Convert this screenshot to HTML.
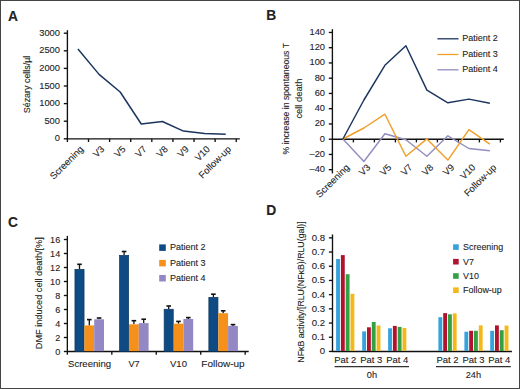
<!DOCTYPE html>
<html><head><meta charset="utf-8"><style>
html,body{margin:0;padding:0;background:#fff;}
svg{display:block;}
text{font-family:"Liberation Sans", sans-serif;fill:#222;stroke:#222;stroke-width:0.1px;}
</style></head><body>
<svg width="520" height="389" viewBox="0 0 520 389">
<rect x="0" y="0" width="520" height="389" fill="#fff"/>
<text x="7.9" y="20.8" font-size="13.8" text-anchor="start" font-weight="bold">A</text>
<line x1="63.80" y1="138.80" x2="67.40" y2="138.80" stroke="#111" stroke-width="1.35"/>
<text x="60" y="141.4" font-size="9.7" text-anchor="end" textLength="5.2" lengthAdjust="spacingAndGlyphs" >0</text>
<line x1="63.80" y1="121.20" x2="67.40" y2="121.20" stroke="#111" stroke-width="1.35"/>
<text x="60" y="123.8" font-size="9.7" text-anchor="end" textLength="15.6" lengthAdjust="spacingAndGlyphs" >500</text>
<line x1="63.80" y1="103.60" x2="67.40" y2="103.60" stroke="#111" stroke-width="1.35"/>
<text x="60" y="106.2" font-size="9.7" text-anchor="end" textLength="20.8" lengthAdjust="spacingAndGlyphs" >1000</text>
<line x1="63.80" y1="86.00" x2="67.40" y2="86.00" stroke="#111" stroke-width="1.35"/>
<text x="60" y="88.6" font-size="9.7" text-anchor="end" textLength="20.8" lengthAdjust="spacingAndGlyphs" >1500</text>
<line x1="63.80" y1="68.40" x2="67.40" y2="68.40" stroke="#111" stroke-width="1.35"/>
<text x="60" y="71.0" font-size="9.7" text-anchor="end" textLength="20.8" lengthAdjust="spacingAndGlyphs" >2000</text>
<line x1="63.80" y1="50.80" x2="67.40" y2="50.80" stroke="#111" stroke-width="1.35"/>
<text x="60" y="53.4" font-size="9.7" text-anchor="end" textLength="20.8" lengthAdjust="spacingAndGlyphs" >2500</text>
<line x1="63.80" y1="33.20" x2="67.40" y2="33.20" stroke="#111" stroke-width="1.35"/>
<text x="60" y="35.8" font-size="9.7" text-anchor="end" textLength="20.8" lengthAdjust="spacingAndGlyphs" >3000</text>
<line x1="67.40" y1="30.20" x2="67.40" y2="142.00" stroke="#111" stroke-width="1.35"/>
<line x1="66.80" y1="138.80" x2="239.80" y2="138.80" stroke="#111" stroke-width="1.35"/>
<line x1="88.51" y1="138.80" x2="88.51" y2="142.00" stroke="#111" stroke-width="1.35"/>
<line x1="109.61" y1="138.80" x2="109.61" y2="142.00" stroke="#111" stroke-width="1.35"/>
<line x1="130.72" y1="138.80" x2="130.72" y2="142.00" stroke="#111" stroke-width="1.35"/>
<line x1="151.82" y1="138.80" x2="151.82" y2="142.00" stroke="#111" stroke-width="1.35"/>
<line x1="172.93" y1="138.80" x2="172.93" y2="142.00" stroke="#111" stroke-width="1.35"/>
<line x1="194.04" y1="138.80" x2="194.04" y2="142.00" stroke="#111" stroke-width="1.35"/>
<line x1="215.14" y1="138.80" x2="215.14" y2="142.00" stroke="#111" stroke-width="1.35"/>
<line x1="236.25" y1="138.80" x2="236.25" y2="142.00" stroke="#111" stroke-width="1.35"/>
<polyline points="77.95,49.04 99.06,74.38 120.17,91.98 141.27,124.02 162.38,121.55 183.48,131.06 204.59,133.52 225.70,134.22" fill="none" stroke="#1c355e" stroke-width="1.5" stroke-linejoin="round"/>
<text transform="translate(83.95,149.80) rotate(-45)" font-size="9.5" text-anchor="end">Screening</text>
<text transform="translate(105.06,149.80) rotate(-45)" font-size="9.5" text-anchor="end">V3</text>
<text transform="translate(126.17,149.80) rotate(-45)" font-size="9.5" text-anchor="end">V5</text>
<text transform="translate(147.27,149.80) rotate(-45)" font-size="9.5" text-anchor="end">V7</text>
<text transform="translate(168.38,149.80) rotate(-45)" font-size="9.5" text-anchor="end">V8</text>
<text transform="translate(189.48,149.80) rotate(-45)" font-size="9.5" text-anchor="end">V9</text>
<text transform="translate(210.59,149.80) rotate(-45)" font-size="9.5" text-anchor="end">V10</text>
<text transform="translate(231.70,149.80) rotate(-45)" font-size="9.5" text-anchor="end">Follow-up</text>
<text transform="translate(30.10,84.45) rotate(-90)" font-size="9.7" text-anchor="middle" textLength="57.5" lengthAdjust="spacingAndGlyphs">Sézary cells/µl</text>
<text x="266.3" y="19.9" font-size="13.8" text-anchor="start" font-weight="bold">B</text>
<line x1="328.80" y1="169.70" x2="332.40" y2="169.70" stroke="#111" stroke-width="1.35"/>
<text x="325" y="172.1" font-size="9.7" text-anchor="end" textLength="15.52" lengthAdjust="spacingAndGlyphs" >–40</text>
<line x1="328.80" y1="154.45" x2="332.40" y2="154.45" stroke="#111" stroke-width="1.35"/>
<text x="325" y="156.85" font-size="9.7" text-anchor="end" textLength="15.52" lengthAdjust="spacingAndGlyphs" >–20</text>
<line x1="328.80" y1="139.20" x2="332.40" y2="139.20" stroke="#111" stroke-width="1.35"/>
<text x="325" y="141.6" font-size="9.7" text-anchor="end" textLength="5.17" lengthAdjust="spacingAndGlyphs" >0</text>
<line x1="328.80" y1="123.95" x2="332.40" y2="123.95" stroke="#111" stroke-width="1.35"/>
<text x="325" y="126.35" font-size="9.7" text-anchor="end" textLength="10.34" lengthAdjust="spacingAndGlyphs" >20</text>
<line x1="328.80" y1="108.70" x2="332.40" y2="108.70" stroke="#111" stroke-width="1.35"/>
<text x="325" y="111.1" font-size="9.7" text-anchor="end" textLength="10.34" lengthAdjust="spacingAndGlyphs" >40</text>
<line x1="328.80" y1="93.45" x2="332.40" y2="93.45" stroke="#111" stroke-width="1.35"/>
<text x="325" y="95.85" font-size="9.7" text-anchor="end" textLength="10.34" lengthAdjust="spacingAndGlyphs" >60</text>
<line x1="328.80" y1="78.20" x2="332.40" y2="78.20" stroke="#111" stroke-width="1.35"/>
<text x="325" y="80.6" font-size="9.7" text-anchor="end" textLength="10.34" lengthAdjust="spacingAndGlyphs" >80</text>
<line x1="328.80" y1="62.95" x2="332.40" y2="62.95" stroke="#111" stroke-width="1.35"/>
<text x="325" y="65.35" font-size="9.7" text-anchor="end" textLength="15.52" lengthAdjust="spacingAndGlyphs" >100</text>
<line x1="328.80" y1="47.70" x2="332.40" y2="47.70" stroke="#111" stroke-width="1.35"/>
<text x="325" y="50.1" font-size="9.7" text-anchor="end" textLength="15.52" lengthAdjust="spacingAndGlyphs" >120</text>
<line x1="328.80" y1="32.45" x2="332.40" y2="32.45" stroke="#111" stroke-width="1.35"/>
<text x="325" y="34.85" font-size="9.7" text-anchor="end" textLength="15.52" lengthAdjust="spacingAndGlyphs" >140</text>
<line x1="332.40" y1="29.15" x2="332.40" y2="173.40" stroke="#111" stroke-width="1.35"/>
<line x1="332.40" y1="139.20" x2="503.80" y2="139.20" stroke="#111" stroke-width="1.35"/>
<line x1="353.40" y1="139.20" x2="353.40" y2="142.40" stroke="#111" stroke-width="1.35"/>
<line x1="374.40" y1="139.20" x2="374.40" y2="142.40" stroke="#111" stroke-width="1.35"/>
<line x1="395.40" y1="139.20" x2="395.40" y2="142.40" stroke="#111" stroke-width="1.35"/>
<line x1="416.40" y1="139.20" x2="416.40" y2="142.40" stroke="#111" stroke-width="1.35"/>
<line x1="437.40" y1="139.20" x2="437.40" y2="142.40" stroke="#111" stroke-width="1.35"/>
<line x1="458.40" y1="139.20" x2="458.40" y2="142.40" stroke="#111" stroke-width="1.35"/>
<line x1="479.40" y1="139.20" x2="479.40" y2="142.40" stroke="#111" stroke-width="1.35"/>
<line x1="500.40" y1="139.20" x2="500.40" y2="142.40" stroke="#111" stroke-width="1.35"/>
<polyline points="342.90,139 363.90,161.5 384.90,133.8 405.90,139.8 426.90,156.2 447.90,135.8 468.90,148.5 489.90,150.8" fill="none" stroke="#928ebf" stroke-width="1.45" stroke-linejoin="round"/>
<polyline points="342.90,139 363.90,128 384.90,114.2 405.90,156.3 426.90,138.9 447.90,160.1 468.90,129.6 489.90,144.1" fill="none" stroke="#efa02a" stroke-width="1.45" stroke-linejoin="round"/>
<polyline points="342.90,139 363.90,100 384.90,65.3 405.90,45.7 426.90,90.1 447.90,102.8 468.90,99.1 489.90,103.2" fill="none" stroke="#1c355e" stroke-width="1.45" stroke-linejoin="round"/>
<text transform="translate(350.00,168.00) rotate(-45)" font-size="9.5" text-anchor="end">Screening</text>
<text transform="translate(371.00,168.00) rotate(-45)" font-size="9.5" text-anchor="end">V3</text>
<text transform="translate(392.00,168.00) rotate(-45)" font-size="9.5" text-anchor="end">V5</text>
<text transform="translate(413.00,168.00) rotate(-45)" font-size="9.5" text-anchor="end">V7</text>
<text transform="translate(434.00,168.00) rotate(-45)" font-size="9.5" text-anchor="end">V8</text>
<text transform="translate(455.00,168.00) rotate(-45)" font-size="9.5" text-anchor="end">V9</text>
<text transform="translate(476.00,168.00) rotate(-45)" font-size="9.5" text-anchor="end">V10</text>
<text transform="translate(497.00,168.00) rotate(-45)" font-size="9.5" text-anchor="end">Follow-up</text>
<line x1="437.40" y1="38.80" x2="458.50" y2="38.80" stroke="#1c355e" stroke-width="1.3"/>
<text x="462.3" y="41.3" font-size="9.7" text-anchor="start" textLength="35.6" lengthAdjust="spacingAndGlyphs" >Patient 2</text>
<line x1="437.40" y1="54.50" x2="458.50" y2="54.50" stroke="#efa02a" stroke-width="1.3"/>
<text x="462.3" y="57.0" font-size="9.7" text-anchor="start" textLength="35.6" lengthAdjust="spacingAndGlyphs" >Patient 3</text>
<line x1="437.40" y1="69.80" x2="458.50" y2="69.80" stroke="#928ebf" stroke-width="1.3"/>
<text x="462.3" y="72.3" font-size="9.7" text-anchor="start" textLength="35.6" lengthAdjust="spacingAndGlyphs" >Patient 4</text>
<text transform="translate(288.90,98.75) rotate(-90)" font-size="9.5" text-anchor="middle" textLength="111.4" lengthAdjust="spacingAndGlyphs">% increase in spontaneous T</text>
<text transform="translate(301.70,98.60) rotate(-90)" font-size="9.5" text-anchor="middle" textLength="40" lengthAdjust="spacingAndGlyphs">cell death</text>
<text x="8.0" y="227.4" font-size="13.8" text-anchor="start" font-weight="bold">C</text>
<line x1="63.85" y1="351.50" x2="67.35" y2="351.50" stroke="#111" stroke-width="1.35"/>
<text x="60.2" y="354.6" font-size="9.7" text-anchor="end" textLength="5.06" lengthAdjust="spacingAndGlyphs" >0</text>
<line x1="63.85" y1="337.50" x2="67.35" y2="337.50" stroke="#111" stroke-width="1.35"/>
<text x="60.2" y="340.6" font-size="9.7" text-anchor="end" textLength="5.06" lengthAdjust="spacingAndGlyphs" >2</text>
<line x1="63.85" y1="323.50" x2="67.35" y2="323.50" stroke="#111" stroke-width="1.35"/>
<text x="60.2" y="326.6" font-size="9.7" text-anchor="end" textLength="5.06" lengthAdjust="spacingAndGlyphs" >4</text>
<line x1="63.85" y1="309.50" x2="67.35" y2="309.50" stroke="#111" stroke-width="1.35"/>
<text x="60.2" y="312.6" font-size="9.7" text-anchor="end" textLength="5.06" lengthAdjust="spacingAndGlyphs" >6</text>
<line x1="63.85" y1="295.50" x2="67.35" y2="295.50" stroke="#111" stroke-width="1.35"/>
<text x="60.2" y="298.6" font-size="9.7" text-anchor="end" textLength="5.06" lengthAdjust="spacingAndGlyphs" >8</text>
<line x1="63.85" y1="281.50" x2="67.35" y2="281.50" stroke="#111" stroke-width="1.35"/>
<text x="60.2" y="284.6" font-size="9.7" text-anchor="end" textLength="10.12" lengthAdjust="spacingAndGlyphs" >10</text>
<line x1="63.85" y1="267.50" x2="67.35" y2="267.50" stroke="#111" stroke-width="1.35"/>
<text x="60.2" y="270.6" font-size="9.7" text-anchor="end" textLength="10.12" lengthAdjust="spacingAndGlyphs" >12</text>
<line x1="63.85" y1="253.50" x2="67.35" y2="253.50" stroke="#111" stroke-width="1.35"/>
<text x="60.2" y="256.6" font-size="9.7" text-anchor="end" textLength="10.12" lengthAdjust="spacingAndGlyphs" >14</text>
<line x1="63.85" y1="239.50" x2="67.35" y2="239.50" stroke="#111" stroke-width="1.35"/>
<text x="60.2" y="242.6" font-size="9.7" text-anchor="end" textLength="10.12" lengthAdjust="spacingAndGlyphs" >16</text>
<line x1="67.35" y1="235.90" x2="67.35" y2="354.70" stroke="#111" stroke-width="1.35"/>
<line x1="67.35" y1="351.50" x2="248.70" y2="351.50" stroke="#111" stroke-width="1.35"/>
<line x1="111.81" y1="351.50" x2="111.81" y2="354.70" stroke="#111" stroke-width="1.35"/>
<line x1="156.27" y1="351.50" x2="156.27" y2="354.70" stroke="#111" stroke-width="1.35"/>
<line x1="200.74" y1="351.50" x2="200.74" y2="354.70" stroke="#111" stroke-width="1.35"/>
<line x1="245.20" y1="351.50" x2="245.20" y2="354.70" stroke="#111" stroke-width="1.35"/>
<line x1="79.50" y1="269.00" x2="79.50" y2="264.50" stroke="#111" stroke-width="1.3"/>
<line x1="77.20" y1="264.30" x2="81.80" y2="264.30" stroke="#111" stroke-width="1.6"/>
<rect x="74.95" y="269.35" width="9.100000000000001" height="82.15" fill="#0e4b85" stroke="#0c365f" stroke-width="0.7"/>
<line x1="89.30" y1="325.40" x2="89.30" y2="319.80" stroke="#111" stroke-width="1.3"/>
<line x1="87.00" y1="319.60" x2="91.60" y2="319.60" stroke="#111" stroke-width="1.6"/>
<rect x="84.40" y="325.4" width="9.8" height="25.75" fill="#f5911a"/>
<line x1="99.10" y1="319.30" x2="99.10" y2="318.20" stroke="#111" stroke-width="1.3"/>
<line x1="96.80" y1="318.00" x2="101.40" y2="318.00" stroke="#111" stroke-width="1.6"/>
<rect x="94.20" y="319.3" width="9.8" height="31.85" fill="#9488c4"/>
<line x1="124.10" y1="255.00" x2="124.10" y2="251.70" stroke="#111" stroke-width="1.3"/>
<line x1="121.80" y1="251.50" x2="126.40" y2="251.50" stroke="#111" stroke-width="1.6"/>
<rect x="119.55" y="255.35" width="9.100000000000001" height="96.15" fill="#0e4b85" stroke="#0c365f" stroke-width="0.7"/>
<line x1="133.90" y1="324.30" x2="133.90" y2="320.90" stroke="#111" stroke-width="1.3"/>
<line x1="131.60" y1="320.70" x2="136.20" y2="320.70" stroke="#111" stroke-width="1.6"/>
<rect x="129.00" y="324.3" width="9.8" height="26.85" fill="#f5911a"/>
<line x1="143.70" y1="323.10" x2="143.70" y2="319.40" stroke="#111" stroke-width="1.3"/>
<line x1="141.40" y1="319.20" x2="146.00" y2="319.20" stroke="#111" stroke-width="1.6"/>
<rect x="138.80" y="323.1" width="9.8" height="28.05" fill="#9488c4"/>
<line x1="168.70" y1="308.90" x2="168.70" y2="306.20" stroke="#111" stroke-width="1.3"/>
<line x1="166.40" y1="306.00" x2="171.00" y2="306.00" stroke="#111" stroke-width="1.6"/>
<rect x="164.15" y="309.25" width="9.100000000000001" height="42.25" fill="#0e4b85" stroke="#0c365f" stroke-width="0.7"/>
<line x1="178.50" y1="323.70" x2="178.50" y2="321.60" stroke="#111" stroke-width="1.3"/>
<line x1="176.20" y1="321.40" x2="180.80" y2="321.40" stroke="#111" stroke-width="1.6"/>
<rect x="173.60" y="323.7" width="9.8" height="27.45" fill="#f5911a"/>
<line x1="188.30" y1="319.00" x2="188.30" y2="317.80" stroke="#111" stroke-width="1.3"/>
<line x1="186.00" y1="317.60" x2="190.60" y2="317.60" stroke="#111" stroke-width="1.6"/>
<rect x="183.40" y="319" width="9.8" height="32.15" fill="#9488c4"/>
<line x1="213.40" y1="297.00" x2="213.40" y2="294.40" stroke="#111" stroke-width="1.3"/>
<line x1="211.10" y1="294.20" x2="215.70" y2="294.20" stroke="#111" stroke-width="1.6"/>
<rect x="208.85" y="297.35" width="9.100000000000001" height="54.15" fill="#0e4b85" stroke="#0c365f" stroke-width="0.7"/>
<line x1="223.20" y1="313.20" x2="223.20" y2="311.00" stroke="#111" stroke-width="1.3"/>
<line x1="220.90" y1="310.80" x2="225.50" y2="310.80" stroke="#111" stroke-width="1.6"/>
<rect x="218.30" y="313.2" width="9.8" height="37.95" fill="#f5911a"/>
<line x1="233.00" y1="325.90" x2="233.00" y2="324.80" stroke="#111" stroke-width="1.3"/>
<line x1="230.70" y1="324.60" x2="235.30" y2="324.60" stroke="#111" stroke-width="1.6"/>
<rect x="228.10" y="325.9" width="9.8" height="25.25" fill="#9488c4"/>
<text x="89.58" y="366.8" font-size="9.8" text-anchor="middle" textLength="43.1" lengthAdjust="spacingAndGlyphs" >Screening</text>
<text x="134.04" y="366.8" font-size="9.8" text-anchor="middle" textLength="11.2" lengthAdjust="spacingAndGlyphs" >V7</text>
<text x="178.51" y="366.8" font-size="9.8" text-anchor="middle" textLength="17.0" lengthAdjust="spacingAndGlyphs" >V10</text>
<text x="222.97" y="366.8" font-size="9.8" text-anchor="middle" textLength="43.3" lengthAdjust="spacingAndGlyphs" >Follow-up</text>
<rect x="159.2" y="244.4" width="6.6" height="6.5" fill="#0e4b85"/>
<text x="169.9" y="250.3" font-size="9.7" text-anchor="start" textLength="35.6" lengthAdjust="spacingAndGlyphs" >Patient 2</text>
<rect x="159.2" y="259.9" width="6.6" height="6.5" fill="#f5911a"/>
<text x="169.9" y="265.8" font-size="9.7" text-anchor="start" textLength="35.6" lengthAdjust="spacingAndGlyphs" >Patient 3</text>
<rect x="159.2" y="275.0" width="6.6" height="6.5" fill="#9488c4"/>
<text x="169.9" y="280.9" font-size="9.7" text-anchor="start" textLength="35.6" lengthAdjust="spacingAndGlyphs" >Patient 4</text>
<text transform="translate(41.80,293.20) rotate(-90)" font-size="9.4" text-anchor="middle" textLength="112" lengthAdjust="spacingAndGlyphs">DMF induced cell death/[%]</text>
<text x="266.3" y="215.2" font-size="13.8" text-anchor="start" font-weight="bold">D</text>
<line x1="328.90" y1="351.45" x2="332.50" y2="351.45" stroke="#111" stroke-width="1.35"/>
<text x="325" y="354.35" font-size="9.7" text-anchor="end" textLength="5.34" lengthAdjust="spacingAndGlyphs" >0</text>
<line x1="328.90" y1="337.25" x2="332.50" y2="337.25" stroke="#111" stroke-width="1.35"/>
<text x="325" y="340.15" font-size="9.7" text-anchor="end" textLength="13.35" lengthAdjust="spacingAndGlyphs" >0.1</text>
<line x1="328.90" y1="323.05" x2="332.50" y2="323.05" stroke="#111" stroke-width="1.35"/>
<text x="325" y="325.95" font-size="9.7" text-anchor="end" textLength="13.35" lengthAdjust="spacingAndGlyphs" >0.2</text>
<line x1="328.90" y1="308.85" x2="332.50" y2="308.85" stroke="#111" stroke-width="1.35"/>
<text x="325" y="311.75" font-size="9.7" text-anchor="end" textLength="13.35" lengthAdjust="spacingAndGlyphs" >0.3</text>
<line x1="328.90" y1="294.65" x2="332.50" y2="294.65" stroke="#111" stroke-width="1.35"/>
<text x="325" y="297.55" font-size="9.7" text-anchor="end" textLength="13.35" lengthAdjust="spacingAndGlyphs" >0.4</text>
<line x1="328.90" y1="280.45" x2="332.50" y2="280.45" stroke="#111" stroke-width="1.35"/>
<text x="325" y="283.35" font-size="9.7" text-anchor="end" textLength="13.35" lengthAdjust="spacingAndGlyphs" >0.5</text>
<line x1="328.90" y1="266.25" x2="332.50" y2="266.25" stroke="#111" stroke-width="1.35"/>
<text x="325" y="269.15" font-size="9.7" text-anchor="end" textLength="13.35" lengthAdjust="spacingAndGlyphs" >0.6</text>
<line x1="328.90" y1="252.05" x2="332.50" y2="252.05" stroke="#111" stroke-width="1.35"/>
<text x="325" y="254.95" font-size="9.7" text-anchor="end" textLength="13.35" lengthAdjust="spacingAndGlyphs" >0.7</text>
<line x1="328.90" y1="237.85" x2="332.50" y2="237.85" stroke="#111" stroke-width="1.35"/>
<text x="325" y="240.75" font-size="9.7" text-anchor="end" textLength="13.35" lengthAdjust="spacingAndGlyphs" >0.8</text>
<line x1="332.50" y1="234.45" x2="332.50" y2="352.05" stroke="#111" stroke-width="1.35"/>
<line x1="332.50" y1="351.45" x2="511.90" y2="351.45" stroke="#111" stroke-width="1.35"/>
<rect x="336.10" y="259" width="3.85" height="91.95" fill="#36a2dc"/>
<rect x="340.90" y="255.1" width="3.85" height="95.85" fill="#b1122d"/>
<rect x="345.70" y="274.2" width="3.85" height="76.75" fill="#33a043"/>
<rect x="350.50" y="293.8" width="3.85" height="57.15" fill="#f4b919"/>
<rect x="362.20" y="331.4" width="3.85" height="19.55" fill="#36a2dc"/>
<rect x="367.00" y="327.3" width="3.85" height="23.65" fill="#b1122d"/>
<rect x="371.80" y="322" width="3.85" height="28.95" fill="#33a043"/>
<rect x="376.60" y="325.5" width="3.85" height="25.45" fill="#f4b919"/>
<rect x="388.10" y="328.3" width="3.85" height="22.65" fill="#36a2dc"/>
<rect x="392.90" y="325.9" width="3.85" height="25.05" fill="#b1122d"/>
<rect x="397.70" y="326.9" width="3.85" height="24.05" fill="#33a043"/>
<rect x="402.50" y="328" width="3.85" height="22.95" fill="#f4b919"/>
<rect x="438.40" y="317.2" width="3.85" height="33.75" fill="#36a2dc"/>
<rect x="443.20" y="313.1" width="3.85" height="37.85" fill="#b1122d"/>
<rect x="448.00" y="314.3" width="3.85" height="36.65" fill="#33a043"/>
<rect x="452.80" y="313.4" width="3.85" height="37.55" fill="#f4b919"/>
<rect x="464.40" y="331.7" width="3.85" height="19.25" fill="#36a2dc"/>
<rect x="469.20" y="330.8" width="3.85" height="20.15" fill="#b1122d"/>
<rect x="474.00" y="330.8" width="3.85" height="20.15" fill="#33a043"/>
<rect x="478.80" y="325.4" width="3.85" height="25.55" fill="#f4b919"/>
<rect x="490.20" y="330.8" width="3.85" height="20.15" fill="#36a2dc"/>
<rect x="495.00" y="325.4" width="3.85" height="25.55" fill="#b1122d"/>
<rect x="499.80" y="330.2" width="3.85" height="20.75" fill="#33a043"/>
<rect x="504.60" y="325.6" width="3.85" height="25.35" fill="#f4b919"/>
<text x="345.23" y="362.6" font-size="9.7" text-anchor="middle" textLength="22.1" lengthAdjust="spacingAndGlyphs" >Pat 2</text>
<text x="371.32" y="362.6" font-size="9.7" text-anchor="middle" textLength="22.1" lengthAdjust="spacingAndGlyphs" >Pat 3</text>
<text x="397.23" y="362.6" font-size="9.7" text-anchor="middle" textLength="22.1" lengthAdjust="spacingAndGlyphs" >Pat 4</text>
<text x="447.52" y="362.6" font-size="9.7" text-anchor="middle" textLength="22.1" lengthAdjust="spacingAndGlyphs" >Pat 2</text>
<text x="473.52" y="362.6" font-size="9.7" text-anchor="middle" textLength="22.1" lengthAdjust="spacingAndGlyphs" >Pat 3</text>
<text x="499.32" y="362.6" font-size="9.7" text-anchor="middle" textLength="22.1" lengthAdjust="spacingAndGlyphs" >Pat 4</text>
<line x1="334.60" y1="366.70" x2="409.00" y2="366.70" stroke="#333" stroke-width="1.3"/>
<line x1="436.00" y1="366.70" x2="510.80" y2="366.70" stroke="#333" stroke-width="1.3"/>
<text x="371.9" y="378.0" font-size="9.7" text-anchor="middle" textLength="10.23" lengthAdjust="spacingAndGlyphs" >0h</text>
<text x="473.4" y="378.0" font-size="9.7" text-anchor="middle" textLength="15.35" lengthAdjust="spacingAndGlyphs" >24h</text>
<rect x="453.1" y="244.3" width="5.6" height="5.6" fill="#36a2dc"/>
<text x="463.1" y="250.1" font-size="9.5" text-anchor="start" textLength="40.08" lengthAdjust="spacingAndGlyphs" >Screening</text>
<rect x="453.1" y="258.9" width="5.6" height="5.6" fill="#b1122d"/>
<text x="463.1" y="264.7" font-size="9.5" text-anchor="start" textLength="10.89" lengthAdjust="spacingAndGlyphs" >V7</text>
<rect x="453.1" y="273.2" width="5.6" height="5.6" fill="#33a043"/>
<text x="463.1" y="279.0" font-size="9.5" text-anchor="start" textLength="15.84" lengthAdjust="spacingAndGlyphs" >V10</text>
<rect x="453.1" y="287.4" width="5.6" height="5.6" fill="#f4b919"/>
<text x="463.1" y="293.2" font-size="9.5" text-anchor="start" textLength="38.58" lengthAdjust="spacingAndGlyphs" >Follow-up</text>
<text transform="translate(304.30,292.00) rotate(-90)" font-size="9.2" text-anchor="middle" textLength="141.4" lengthAdjust="spacingAndGlyphs">NFκB activity/[RLU(NFκB)/RLU(gal)]</text>
<rect x="0.5" y="0.5" width="519" height="388" fill="none" stroke="#454545" stroke-width="1"/>
</svg>
</body></html>
